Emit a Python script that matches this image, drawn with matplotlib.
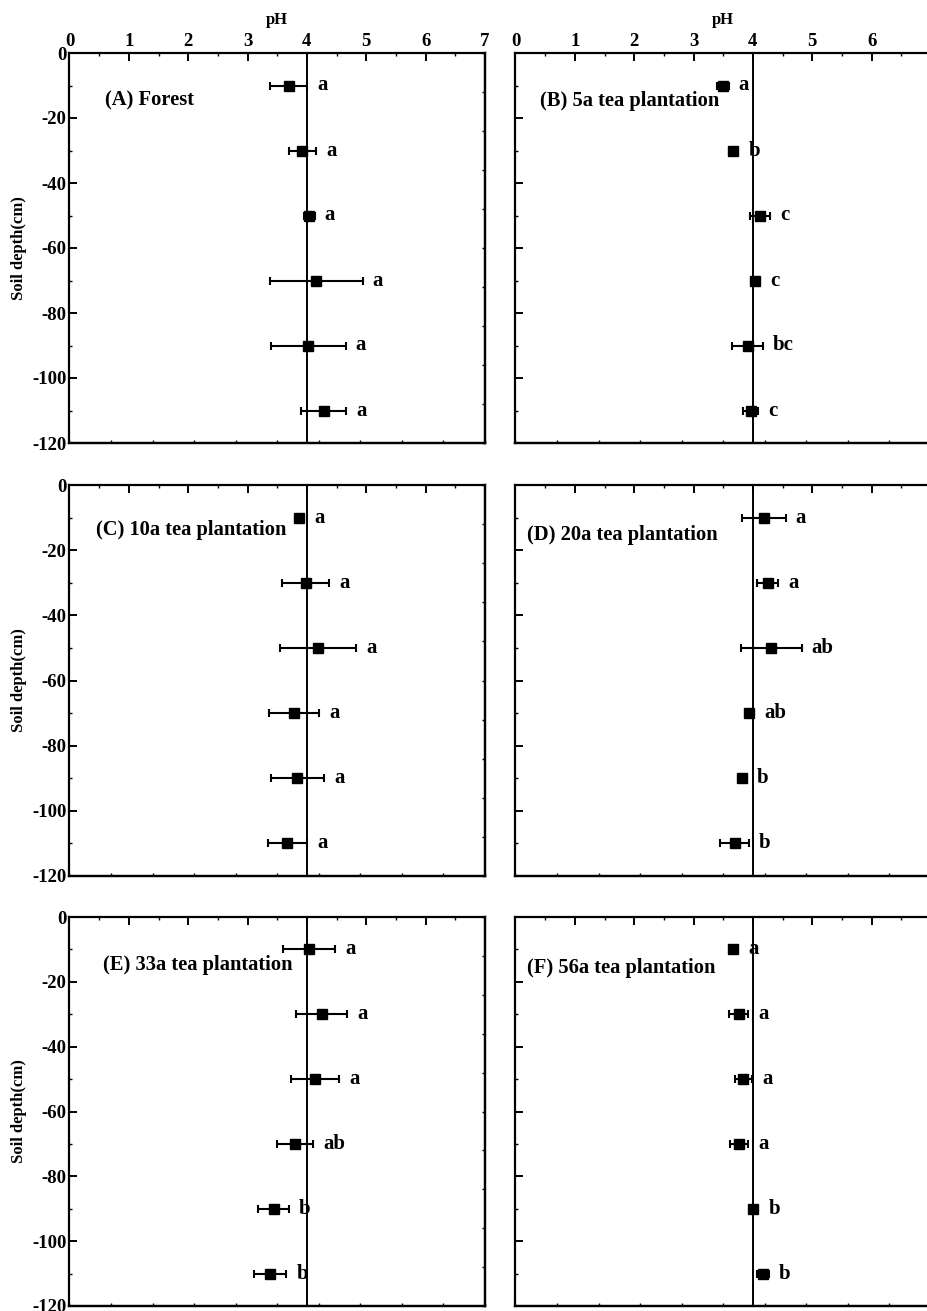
import numpy as np
import matplotlib
matplotlib.use("Agg")
import matplotlib.pyplot as plt
from matplotlib.ticker import MultipleLocator, NullFormatter

plt.rcParams['font.family'] = ['Liberation Serif', 'DejaVu Serif']
plt.rcParams['font.weight'] = 'bold'
plt.rcParams['axes.unicode_minus'] = False

depth = [-10, -30, -50, -70, -90, -110]

ph_A = [3.69, 3.92, 4.04, 4.16, 4.02, 4.28]
err_A = [0.31, 0.23, 0.09, 0.78, 0.63, 0.38]
let_A = ['a', 'a', 'a', 'a', 'a', 'a']

ph_B = [3.49, 3.67, 4.12, 4.04, 3.91, 3.96]
err_B = [0.10, 0.04, 0.17, 0.04, 0.26, 0.12]
let_B = ['a', 'b', 'c', 'c', 'bc', 'c']

ph_C = [3.86, 3.98, 4.19, 3.78, 3.84, 3.67]
err_C = [0.04, 0.40, 0.64, 0.42, 0.45, 0.33]
let_C = ['a', 'a', 'a', 'a', 'a', 'a']

ph_D = [4.18, 4.25, 4.31, 3.93, 3.81, 3.69]
err_D = [0.37, 0.18, 0.51, 0.04, 0.04, 0.24]
let_D = ['a', 'a', 'ab', 'ab', 'b', 'b']

ph_E = [4.04, 4.25, 4.14, 3.80, 3.44, 3.38]
err_E = [0.44, 0.43, 0.40, 0.31, 0.26, 0.27]
let_E = ['a', 'a', 'a', 'ab', 'b', 'b']

ph_F = [3.67, 3.76, 3.84, 3.77, 4.00, 4.17]
err_F = [0.04, 0.16, 0.15, 0.15, 0.04, 0.10]
let_F = ['a', 'a', 'a', 'a', 'b', 'b']

titles = ['(A) Forest', '(B) 5a tea plantation', '(C) 10a tea plantation',
          '(D) 20a tea plantation', '(E) 33a tea plantation', '(F) 56a tea plantation']
title_pos = [(0.086, 0.879), (0.059, 0.877), (0.064, 0.885),
             (0.027, 0.872), (0.081, 0.877), (0.027, 0.870)]

panels = [(ph_A, err_A, let_A), (ph_B, err_B, let_B), (ph_C, err_C, let_C),
          (ph_D, err_D, let_D), (ph_E, err_E, let_E), (ph_F, err_F, let_F)]

W, H = 928, 1311
fig = plt.figure(figsize=(W / 100, H / 100), dpi=100)

col_x = [69.5, 515.5]
col_w = 415.5
rows = [(53, 443), (485, 876), (917, 1306)]

for i, (ph, err, lets) in enumerate(panels):
    r, c = divmod(i, 2)
    top, bot = rows[r]
    ax = fig.add_axes([col_x[c] / W, 1 - bot / H, col_w / W, (bot - top) / H])
    ax.set_xlim(0, 7)
    ax.set_ylim(-120, 0)

    ax.axvline(4, color='black', lw=1.4, zorder=1)
    ax.errorbar(ph, depth, xerr=err, fmt='s', color='black', ms=7.5,
                elinewidth=1.5, capsize=3.2, capthick=1.5, zorder=3)
    for x, e, y, t in zip(ph, err, depth, lets):
        ax.text(x + max(e, 0.09) + 0.17, y, t, ha='left', va='center',
                fontsize=15, fontweight='bold')

    tx, ty = title_pos[i]
    ax.text(tx, ty, titles[i], transform=ax.transAxes, ha='left', va='center',
            fontsize=14.8, fontweight='bold')

    for s in ax.spines.values():
        s.set_linewidth(1.6)

    ax.xaxis.tick_top()
    ax.xaxis.set_major_locator(MultipleLocator(1))
    ax.xaxis.set_minor_locator(MultipleLocator(0.5))
    ax.yaxis.set_major_locator(MultipleLocator(20))
    ax.yaxis.set_minor_locator(MultipleLocator(10))
    ax.tick_params(axis='both', which='major', direction='in', length=5.5,
                   width=1.4, labelsize=13.5, pad=2)
    ax.tick_params(axis='both', which='minor', direction='in', length=2.5,
                   width=1.0)
    ax.tick_params(axis='y', which='both', right=False)
    ax.set_yticks(np.arange(-120, 1, 20))
    ax.set_yticklabels([str(v) for v in np.arange(-120, 1, 20)])

    if r == 0:
        ticks = list(range(0, 8))
        ax.set_xticks(ticks)
        if c == 0:
            ax.set_xticklabels([str(t) for t in ticks])
        else:
            ax.set_xticklabels([str(t) if t < 7 else '' for t in ticks])
        ax.xaxis.set_label_position('top')
        ax.set_xlabel('pH', fontsize=12, fontweight='bold', labelpad=7)
    else:
        ax.xaxis.set_major_formatter(NullFormatter())

    if c == 0:
        ax.set_ylabel('Soil depth(cm)', fontsize=12, fontweight='bold', labelpad=4)
    else:
        ax.yaxis.set_major_formatter(NullFormatter())

    sec_x = ax.secondary_xaxis('bottom')
    sec_x.set_xticks(np.arange(0, 7.01, 0.7))
    sec_x.xaxis.set_major_formatter(NullFormatter())
    sec_x.tick_params(direction='in', length=2.5, width=1.0)
    sec_x.spines['bottom'].set_linewidth(1.6)

    sec_y = ax.secondary_yaxis('right')
    sec_y.set_yticks(np.arange(-120, 0.1, 12))
    sec_y.yaxis.set_major_formatter(NullFormatter())
    sec_y.tick_params(direction='in', length=2.5, width=1.0)
    sec_y.spines['right'].set_linewidth(1.6)

fig.savefig('out.png', dpi=100)
